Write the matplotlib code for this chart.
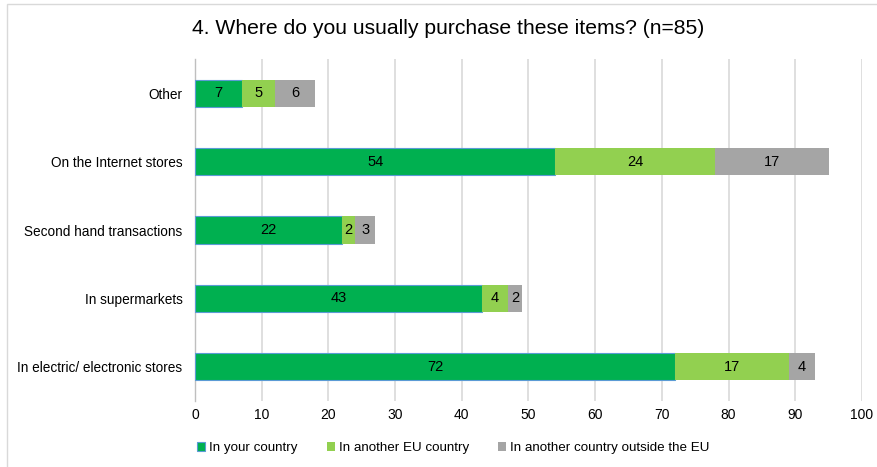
import numpy as np
import matplotlib.pyplot as plt
from matplotlib.patches import Rectangle

plt.rcParams['font.family'] = ['Liberation Sans', 'DejaVu Sans']

categories = ['Other', 'On the Internet stores', 'Second hand transactions',
              'In supermarkets', 'In electric/ electronic stores']
your_country = [7, 54, 22, 43, 72]
other_eu = [5, 24, 2, 4, 17]
outside_eu = [6, 17, 3, 2, 4]
series_names = ['In your country', 'In another EU country',
                'In another country outside the EU']
colors = ['#00B050', '#92D050', '#A5A5A5']

fig = plt.figure(figsize=(8.78, 4.67), dpi=100)
ax = fig.add_axes([195 / 878, 1 - 401 / 467, 667 / 878, 342 / 467])

y = np.arange(len(categories))
left = np.zeros(len(categories))
for i, (vals, name, col) in enumerate(zip([your_country, other_eu, outside_eu],
                                          series_names, colors)):
    vals = np.array(vals)
    edge = '#5B9BD5' if i == 0 else col
    bars = ax.barh(y, vals, left=left, height=0.4, color=col,
                   edgecolor=edge, linewidth=0.8 if i == 0 else 0,
                   label=name, zorder=3)
    for b, v in zip(bars, vals):
        ax.text(b.get_x() + b.get_width() / 2, b.get_y() + b.get_height() / 2,
                str(v), ha='center', va='center', fontsize=10.5, color='black',
                zorder=4)
    left += vals

ax.set_ylim(len(categories) - 0.5, -0.5)
ax.set_xlim(0, 100)
ax.set_xticks(range(0, 101, 10))
ax.set_yticks(y)
ax.set_yticklabels(categories, fontsize=9.8)
ax.tick_params(axis='x', labelsize=10, length=0, pad=5)
ax.tick_params(axis='y', length=0, pad=9)
ax.grid(axis='x', color='#D9D9D9', linewidth=1.2, zorder=0)
for s in ['top', 'right', 'bottom']:
    ax.spines[s].set_visible(False)
ax.spines['left'].set_color('#BFBFBF')
ax.spines['left'].set_linewidth(1.0)

fig.text(448 / 878, 1 - 28 / 467, '4. Where do you usually purchase these items? (n=85)',
         ha='center', va='center', fontsize=15.2)

leg = fig.legend(loc='center left', bbox_to_anchor=(185 / 878, 1 - 448 / 467),
                 ncol=3, frameon=False, fontsize=9.6, handlelength=0.6,
                 handleheight=0.6, handletextpad=0.3, columnspacing=2.2)

# thin frame around the chart area
fig.patches.append(Rectangle((7 / 878, -0.1), 1.0, 1 - 4 / 467 + 0.1,
                             transform=fig.transFigure, fill=False,
                             edgecolor='#D9D9D9', linewidth=1.0))

fig.savefig('out.png', dpi=100)
